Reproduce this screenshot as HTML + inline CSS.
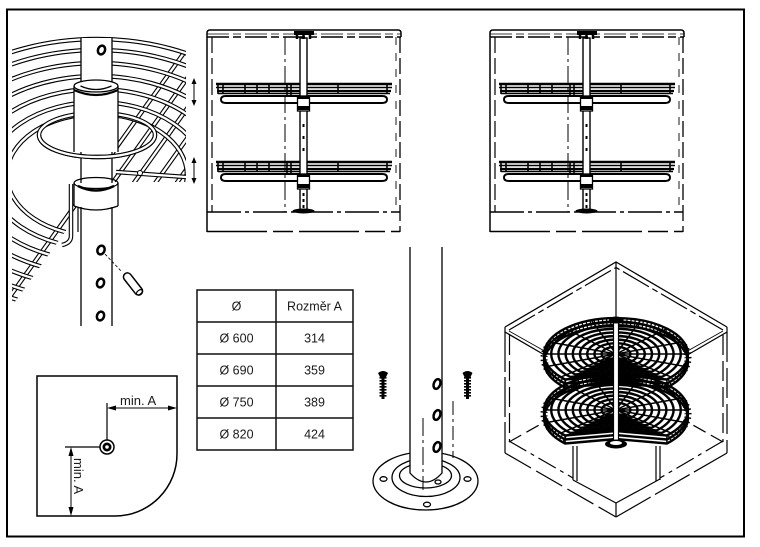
<!DOCTYPE html>
<html><head><meta charset="utf-8">
<style>
html,body{margin:0;padding:0;background:#fff;}
svg{display:block;}
text{font-family:"Liberation Sans",Arial,sans-serif;fill:#1a1a1a;}
</style></head>
<body>
<svg width="760" height="547" viewBox="0 0 760 547" xmlns="http://www.w3.org/2000/svg">
<defs>
 <clipPath id="pc1"><rect x="12" y="33" width="174" height="298"/></clipPath>
 <clipPath id="q1"><path d="M12,33 H186 V182 H82 V208 L12,306 Z"/></clipPath>
 <clipPath id="e1"><ellipse cx="97" cy="175" rx="202" ry="138"/></clipPath>
</defs>

<rect x="7" y="9.5" width="737" height="527" fill="none" stroke="#000" stroke-width="2"/>

<!-- ============ PANEL 1 : detail ============ -->
<g clip-path="url(#pc1)">
 <g clip-path="url(#q1)" fill="none">
  <g clip-path="url(#e1)">
   <g stroke="#000" stroke-width="4.5">
    <line x1="250" y1="-39.6" x2="0" y2="310.4"/>
    <line x1="250" y1="-9.6" x2="0" y2="340.4"/>
    <line x1="250" y1="20.4" x2="0" y2="370.4"/>
    <line x1="250" y1="50.4" x2="0" y2="400.4"/>
    <line x1="250" y1="80.4" x2="0" y2="430.4"/>
   </g>
   <g stroke="#fff" stroke-width="2.3">
    <line x1="250" y1="-39.6" x2="0" y2="310.4"/>
    <line x1="250" y1="-9.6" x2="0" y2="340.4"/>
    <line x1="250" y1="20.4" x2="0" y2="370.4"/>
    <line x1="250" y1="50.4" x2="0" y2="400.4"/>
    <line x1="250" y1="80.4" x2="0" y2="430.4"/>
   </g>
  </g>
  <g stroke="#000" stroke-width="4.5">
   <ellipse cx="97" cy="175" rx="200" ry="136"/>
   <ellipse cx="97" cy="175" rx="184" ry="125"/>
   <ellipse cx="97" cy="175" rx="165" ry="112"/>
   <ellipse cx="97" cy="175" rx="146" ry="99"/>
   <ellipse cx="97" cy="175" rx="127" ry="86"/>
   <ellipse cx="97" cy="175" rx="108" ry="73"/>
   <ellipse cx="97" cy="175" rx="90" ry="61"/>
  </g>
  <g stroke="#fff" stroke-width="2.3">
   <ellipse cx="97" cy="175" rx="200" ry="136"/>
   <ellipse cx="97" cy="175" rx="184" ry="125"/>
   <ellipse cx="97" cy="175" rx="165" ry="112"/>
   <ellipse cx="97" cy="175" rx="146" ry="99"/>
   <ellipse cx="97" cy="175" rx="127" ry="86"/>
   <ellipse cx="97" cy="175" rx="108" ry="73"/>
   <ellipse cx="97" cy="175" rx="90" ry="61"/>
  </g>
 </g>
 <!-- tail bar -->
 <path d="M116,172 L186,177" stroke="#000" stroke-width="4.5" fill="none"/>
 <path d="M116,172 L186,177" stroke="#fff" stroke-width="2.3" fill="none"/>
 <circle cx="140" cy="173" r="2.5" fill="#fff" stroke="#000" stroke-width="1"/>
 <!-- bracket -->
 <path d="M71,184 V236 Q71,243 62,245" stroke="#000" stroke-width="4.5" fill="none"/>
 <path d="M71,184 V236 Q71,243 62,245" stroke="#fff" stroke-width="2.3" fill="none"/>
 <path d="M78,186 V232" stroke="#000" stroke-width="1.2" fill="none"/>
 <!-- pole -->
 <rect x="81" y="38" width="31" height="288" fill="#fff"/>
 <g stroke="#000" stroke-width="1.3" fill="none">
  <line x1="81" y1="38" x2="81" y2="326"/>
  <line x1="112" y1="38" x2="112" y2="326"/>
 </g>
 <!-- ring back -->
 <ellipse cx="97" cy="135" rx="58" ry="22" fill="none" stroke="#000" stroke-width="4.5"/>
 <ellipse cx="97" cy="135" rx="58" ry="22" fill="none" stroke="#fff" stroke-width="2.3"/>
 <!-- upper collar -->
 <rect x="74" y="86" width="44" height="66" fill="#fff"/>
 <g stroke="#000" fill="none" stroke-width="1.3">
  <line x1="74" y1="86" x2="74" y2="152"/>
  <line x1="118" y1="86" x2="118" y2="152"/>
  <ellipse cx="96" cy="86" rx="22" ry="6" fill="#fff"/>
  <path d="M80.5,86 Q96,93 111.5,86"/>
  <path d="M74,90 Q96,100 118,90" stroke-width="2.2"/>
 </g>
 <!-- ring front -->
 <path d="M39,135 A58,22 0 0 0 155,135" fill="none" stroke="#000" stroke-width="4.5"/>
 <path d="M39,135 A58,22 0 0 0 155,135" fill="none" stroke="#fff" stroke-width="2.3"/>
 <!-- lower collar -->
 <rect x="74" y="183" width="44" height="24" fill="#fff"/>
 <g stroke="#000" fill="none" stroke-width="1.3">
  <line x1="74" y1="183" x2="74" y2="206"/>
  <line x1="118" y1="183" x2="118" y2="206"/>
  <ellipse cx="96" cy="183" rx="22" ry="5.5"/>
  <path d="M78,186 Q96,195 114,186" stroke-width="2.4"/>
  <path d="M74,206 Q96,214 118,206"/>
 </g>
 <!-- holes -->
 <g fill="#fff" stroke="#000" stroke-width="2.5">
  <ellipse cx="101.5" cy="50" rx="3.5" ry="4.5" transform="rotate(20 101.5 50)"/>
  <ellipse cx="101" cy="250" rx="3.5" ry="4.5" transform="rotate(20 101 250)"/>
  <ellipse cx="100.5" cy="283" rx="3.5" ry="4.5" transform="rotate(20 100.5 283)"/>
  <ellipse cx="100.5" cy="316" rx="3.5" ry="4.5" transform="rotate(20 100.5 316)"/>
 </g>
 <!-- pin -->
 <line x1="105" y1="254" x2="122" y2="272" stroke="#000" stroke-width="0.8" stroke-dasharray="3,2"/>
 <g transform="translate(133,284) rotate(52)">
  <rect x="-13" y="-4" width="26" height="8" rx="4" fill="#fff" stroke="#000" stroke-width="1.5"/>
  <ellipse cx="10.5" cy="0" rx="2" ry="3.5" fill="none" stroke="#000" stroke-width="1.2"/>
 </g>
</g>

<!-- arrows -->
<g stroke="#000" stroke-width="1" fill="#000">
 <line x1="194" y1="82" x2="194" y2="102"/>
 <path d="M194,78 l-2.5,6 h5 z" stroke="none"/>
 <path d="M194,106 l-2.5,-6 h5 z" stroke="none"/>
 <line x1="194" y1="161" x2="194" y2="180"/>
 <path d="M194,157 l-2.5,6 h5 z" stroke="none"/>
 <path d="M194,184 l-2.5,-6 h5 z" stroke="none"/>
</g>

<!-- ============ PANEL 2 : front view ============ -->
<g id="p2" fill="none" stroke="#000">
 <path d="M207,37 V33 Q207,30 210,30 H398 Q401,30 401,33 V37" stroke-width="1.5"/>
 <line x1="207" y1="37" x2="401" y2="37" stroke-width="1.5" stroke-dasharray="22,4,8,4"/>
 <line x1="207" y1="34" x2="401" y2="34" stroke-width="0.8" stroke-dasharray="22,4,8,4"/>
 <line x1="207" y1="37" x2="207" y2="232" stroke-width="1.5"/>
 <line x1="212" y1="37" x2="212" y2="212" stroke-width="1.2" stroke-dasharray="16,5"/>
 <line x1="400" y1="37" x2="400" y2="232" stroke-width="1.3" stroke-dasharray="16,5"/>
 <line x1="396" y1="37" x2="396" y2="212" stroke-width="0.9" stroke-dasharray="8,8"/>
 <line x1="207" y1="212" x2="400" y2="212" stroke-width="1.5" stroke-dasharray="34,4,4,4"/>
 <line x1="207" y1="231.5" x2="400" y2="231.5" stroke-width="1.5" stroke-dasharray="60,6,20,6"/>
 <line x1="285" y1="37" x2="285" y2="212" stroke-width="1" stroke-dasharray="18,4,3,4"/>
 <g id="bk">
  <line x1="216" y1="84" x2="392" y2="84" stroke-width="2.4"/>
  <line x1="216" y1="87.5" x2="392" y2="87.5" stroke-width="1.6"/>
  <line x1="217" y1="91" x2="391" y2="91" stroke-width="2.2"/>
  <line x1="218" y1="93.5" x2="390" y2="93.5" stroke-width="1.4"/>
  <path d="M226,96 H382 Q387,96 387,99.5 Q387,103 382,103 H226 Q221,103 221,99.5 Q221,96 226,96 Z" stroke-width="1.9"/>
  <path d="M218,84V94 M223,84V94 M245,84V94 M257,84V94 M269,84V94 M287,84V97 M291,84V97 M338,84V94 M387,84V94" stroke-width="1.6"/>
 </g>
 <use href="#bk" transform="translate(0,78)"/>
 <rect x="300" y="38" width="7" height="173" fill="#fff" stroke-width="1.4"/>
 <rect x="294" y="31" width="20" height="4" fill="#000" stroke="none"/>
 <path d="M297,35V39 M303.5,35V39 M310,35V39" stroke-width="2.5"/>
 <rect x="297.5" y="96" width="12" height="15" fill="#fff" stroke-width="1.3"/>
 <rect x="297.5" y="96" width="12" height="3" fill="#000" stroke="none"/>
 <rect x="297.5" y="106" width="12" height="4" fill="#000" stroke="none"/>
 <rect x="297.5" y="174" width="12" height="15" fill="#fff" stroke-width="1.3"/>
 <rect x="297.5" y="174" width="12" height="3" fill="#000" stroke="none"/>
 <rect x="297.5" y="184" width="12" height="4" fill="#000" stroke="none"/>
 <path d="M303.5,124v3 M303.5,136v3 M303.5,148v3 M303.5,193v3 M303.5,199v3 M303.5,205v3" stroke-width="2"/>
 <ellipse cx="303.5" cy="211" rx="11" ry="2.5" fill="#000" stroke="none"/>
</g>

<!-- ============ PANEL 3 ============ -->
<use href="#p2" transform="translate(283,0)"/>

<!-- ============ TABLE ============ -->
<g stroke="#111" stroke-width="1.5" fill="none">
 <rect x="197" y="290" width="156" height="160"/>
 <line x1="276" y1="290" x2="276" y2="450"/>
 <line x1="197" y1="322" x2="353" y2="322"/>
 <line x1="197" y1="354" x2="353" y2="354"/>
 <line x1="197" y1="386" x2="353" y2="386"/>
 <line x1="197" y1="418" x2="353" y2="418"/>
</g>
<g font-size="12.5" text-anchor="middle">
 <text x="236.5" y="310.5">Ø</text>
 <text x="314.5" y="310.5">Rozměr A</text>
 <text x="236.5" y="342.5">Ø 600</text>
 <text x="314.5" y="342.5">314</text>
 <text x="236.5" y="374.5">Ø 690</text>
 <text x="314.5" y="374.5">359</text>
 <text x="236.5" y="406.5">Ø 750</text>
 <text x="314.5" y="406.5">389</text>
 <text x="236.5" y="438.5">Ø 820</text>
 <text x="314.5" y="438.5">424</text>
</g>

<!-- ============ BOTTOM-LEFT plan ============ -->
<g stroke="#000" fill="none">
 <path d="M37,376 H177 V454 A62,62 0 0 1 115,516 H37 Z" stroke-width="1.5"/>
 <line x1="107" y1="403" x2="107" y2="440" stroke-width="1.2"/>
 <line x1="110" y1="408" x2="174" y2="408" stroke-width="1"/>
 <line x1="65" y1="447" x2="100" y2="447" stroke-width="1.2"/>
 <line x1="71" y1="450" x2="71" y2="513" stroke-width="1"/>
 <circle cx="107" cy="447" r="7" stroke-width="1.5"/>
</g>
<circle cx="107" cy="447" r="4.5" fill="#000"/>
<circle cx="107" cy="447" r="1.8" fill="#fff"/>
<g fill="#000">
 <path d="M107,408 l9,-2.5 v5 z"/>
 <path d="M177,408 l-9,-2.5 v5 z"/>
 <path d="M71,447 l-2.5,9 h5 z"/>
 <path d="M71,516 l-2.5,-9 h5 z"/>
</g>
<text x="120" y="405" font-size="13">min. A</text>
<text transform="translate(74,458) rotate(90)" font-size="13">min. A</text>

<!-- ============ POLE + BASE ============ -->
<g stroke="#000" fill="none" stroke-width="1.3">
 <ellipse cx="425.5" cy="481" rx="52.5" ry="29" fill="#fff"/>
 <ellipse cx="426" cy="477.5" rx="34" ry="19"/>
 <ellipse cx="425.5" cy="475.5" rx="26" ry="12.5"/>
 <ellipse cx="383.5" cy="479" rx="3.5" ry="2.3"/>
 <ellipse cx="467.5" cy="479" rx="3.5" ry="2.3"/>
 <ellipse cx="427" cy="504.5" rx="3.5" ry="2.3"/>
 <path d="M410,247 V473 Q426,491 442,473 V247" fill="#fff"/>
 <ellipse cx="438" cy="482" rx="3" ry="2"/>
 <line x1="423" y1="418" x2="423" y2="490" stroke-dasharray="18,4,3,4" stroke-width="1"/>
 <line x1="453" y1="401" x2="453" y2="458" stroke-dasharray="14,4,3,4" stroke-width="1"/>
</g>
<g fill="#fff" stroke="#000" stroke-width="2.5">
 <ellipse cx="437" cy="384" rx="3.2" ry="5" transform="rotate(20 437 384)"/>
 <ellipse cx="437" cy="415" rx="3.2" ry="5" transform="rotate(20 437 415)"/>
 <ellipse cx="437" cy="447" rx="3.2" ry="5" transform="rotate(20 437 447)"/>
</g>
<g>
 <path d="M378,373 Q383,369 388,373 L386,377 H380 Z" fill="#000"/>
 <line x1="383" y1="376" x2="383" y2="399" stroke="#000" stroke-width="3"/>
 <line x1="383" y1="377" x2="383" y2="397" stroke="#000" stroke-width="7" stroke-dasharray="1.6,1.4"/>
 <path d="M462.5,373 Q467.5,369 472.5,373 L470.5,377 H464.5 Z" fill="#000"/>
 <line x1="467.5" y1="376" x2="467.5" y2="399" stroke="#000" stroke-width="3"/>
 <line x1="467.5" y1="377" x2="467.5" y2="397" stroke="#000" stroke-width="7" stroke-dasharray="1.6,1.4"/>
</g>

<!-- ============ ISOMETRIC CABINET ============ -->
<g fill="none" stroke="#000" stroke-width="1.2">
 <path d="M505,327 L616,262 L727,327"/>
 <path d="M509,330 L616,267.5 L723,330" stroke-dasharray="30,4,6,4"/>
 <path d="M505,327 V332 L548,357"/>
 <path d="M509,331 L548,353" stroke-width="0.8"/>
 <path d="M727,327 V332 L684,357"/>
 <path d="M723,331 L684,353" stroke-width="0.8"/>
 <line x1="616" y1="262" x2="616" y2="320"/>
 <line x1="505" y1="332" x2="505" y2="453" stroke-dasharray="40,5"/>
 <line x1="509.5" y1="335" x2="509.5" y2="442" stroke-dasharray="20,6"/>
 <line x1="727" y1="332" x2="727" y2="453" stroke-dasharray="30,6"/>
 <line x1="723" y1="335" x2="723" y2="442" stroke-dasharray="20,6"/>
 <path d="M505,453 L616,517" stroke-dasharray="30,6"/>
 <path d="M616,517 L727,453" stroke-dasharray="40,5"/>
 <path d="M509,441 L573,478" stroke-dasharray="20,5,4,5"/>
 <path d="M723,441 L660,478" stroke-dasharray="20,5,4,5"/>
 <path d="M573,480 L616,503 L660,479"/>
 <line x1="616" y1="503" x2="616" y2="517"/>
 <path d="M573,446 V480 M577,446 V481 M656,446 V481 M660,446 V480"/>
 <path d="M509,442 L548,420" stroke-dasharray="14,6"/>
 <path d="M723,442 L684,420" stroke-dasharray="14,6"/>
</g>

<!-- baskets (kidney shape) -->
<g fill="#fff" stroke="none">
 <g transform="translate(0,3)">
  <path d="M565.1,376.5 A72,36 0 1 1 666.9,376.5 L616,372 Z"/>
  <path d="M565.1,384.5 A72,36 0 1 1 666.9,384.5 L616,380 Z"/>
 </g>
 <g transform="translate(0,59)">
  <path d="M565.1,376.5 A72,36 0 1 1 666.9,376.5 L616,372 Z"/>
  <path d="M565.1,384.5 A72,36 0 1 1 666.9,384.5 L616,380 Z"/>
 </g>
</g>
<g id="ub" transform="translate(0,3)" fill="none" stroke="#000">
 <path d="M565.1,380.5 A72,36 0 1 1 666.9,380.5" stroke-width="7" stroke-dasharray="1.3,2.7"/>
 <g stroke-width="2.4">
  <path d="M565.1,376.5 A72,36 0 1 1 666.9,376.5 L616,372 Z"/>
  <path d="M570.2,373.9 A64.8,32.4 0 1 1 661.8,373.9 L616,369.9 Z"/>
  <path d="M575.3,371.4 A57.6,28.8 0 1 1 656.7,371.4 L616,367.8 Z"/>
  <path d="M580.4,368.8 A50.4,25.2 0 1 1 651.6,368.8 L616,365.7 Z"/>
  <path d="M585.5,366.3 A43.2,21.6 0 1 1 646.5,366.3 L616,363.6 Z"/>
  <path d="M590.5,363.7 A36,18 0 1 1 641.5,363.7 L616,361.5 Z"/>
  <path d="M595.6,361.2 A28.8,14.4 0 1 1 636.4,361.2 L616,359.4 Z"/>
  <path d="M600.7,358.6 A21.6,10.8 0 1 1 631.3,358.6 L616,357.3 Z"/>
  <path d="M605.8,356.1 A14.4,7.2 0 1 1 626.2,356.1 L616,355.2 Z"/>
  <path d="M565.1,380.5 A72,36 0 1 1 666.9,380.5 L616,376 Z"/>
  <path d="M565.1,384.5 A72,36 0 1 1 666.9,384.5 L616,380 Z"/>
 </g>
 <g stroke-width="1.5">
  <path d="M565.1,376.5 V384.5 M666.9,376.5 V384.5 M544,351 V359 M688,351 V359 M616,372 V380"/>
  <path d="M616,351 L560.8,374.1 M616,351 L548.3,363.3 M616,351 L544,351 M616,351 L548.3,338.7 M616,351 L565.1,325.5 M616,351 L591.4,317.2 M616,351 L616,315 M616,351 L640.6,317.2 M616,351 L666.9,325.5 M616,351 L683.7,338.7 M616,351 L688,351 M616,351 L683.7,363.3 M616,351 L671.2,374.1"/>
 </g>
</g>
<use href="#ub" transform="translate(0,56)"/>
<rect x="613.5" y="318" width="5" height="124" fill="#fff" stroke="#000" stroke-width="1.2"/>
<ellipse cx="616" cy="320" rx="7" ry="3.5" fill="#000"/>
<ellipse cx="616" cy="444" rx="11" ry="4.5" fill="#000"/>
<ellipse cx="616" cy="443" rx="6" ry="2" fill="#fff"/>
</svg>
</body></html>
